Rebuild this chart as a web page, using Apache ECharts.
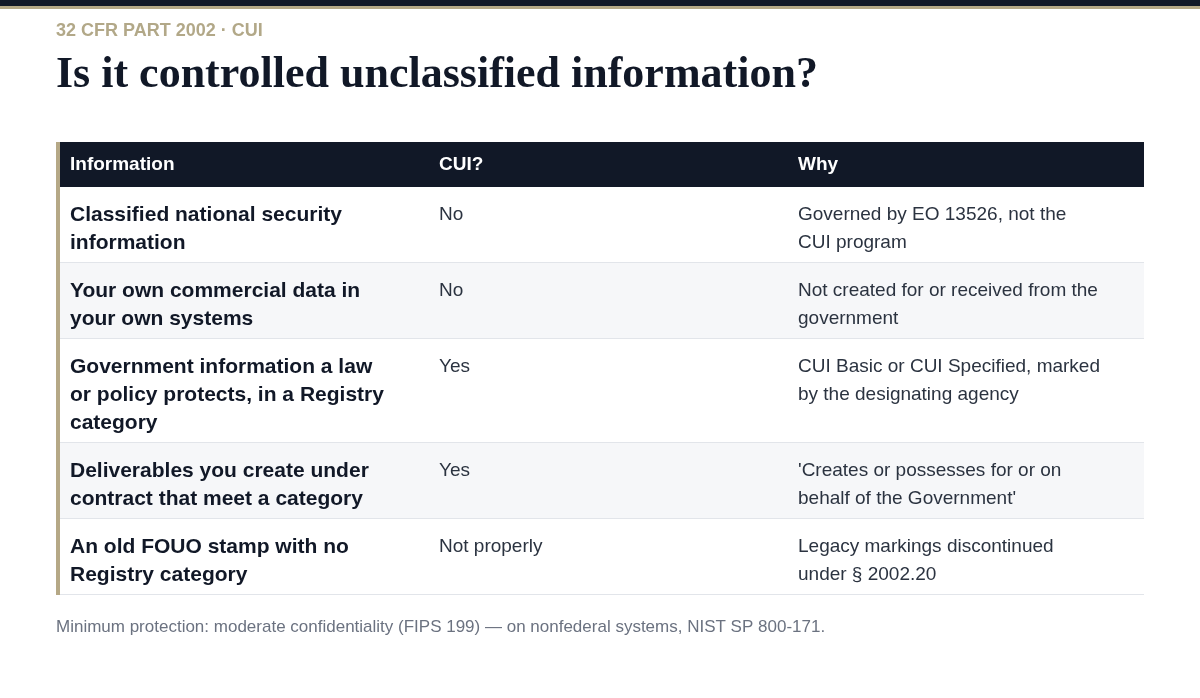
<!DOCTYPE html>
<html><head><meta charset="utf-8">
<script src="https://cdn.jsdelivr.net/npm/echarts@6/dist/echarts.min.js"></script>
<style>html,body{margin:0;padding:0;background:#fff}#c{width:1200px;height:698px}</style>
</head><body><div id="c"></div>
<script>
const kicker = "32 CFR PART 2002 · CUI";
const title = "Is it controlled unclassified information?";
const headers = ["Information", "CUI?", "Why"];
const information = [
  "Classified national security\ninformation",
  "Your own commercial data in\nyour own systems",
  "Government information a law\nor policy protects, in a Registry\ncategory",
  "Deliverables you create under\ncontract that meet a category",
  "An old FOUO stamp with no\nRegistry category"
];
const cui = ["No", "No", "Yes", "Yes", "Not properly"];
const why = [
  "Governed by EO 13526, not the\nCUI program",
  "Not created for or received from the\ngovernment",
  "CUI Basic or CUI Specified, marked\nby the designating agency",
  "'Creates or possesses for or on\nbehalf of the Government'",
  "Legacy markings discontinued\nunder § 2002.20"
];
const footnote = "Minimum protection: moderate confidentiality (FIPS 199) — on nonfederal systems, NIST SP 800-171.";

const FONT = "'Liberation Sans', Arial, sans-serif";
const colX = [70, 439, 798];
const left = 56, right = 1144, headTop = 142, headH = 45, lineH = 28, padV = 14;
const g = [];
g.push({type:'rect', shape:{x:0,y:0,width:1200,height:6}, style:{fill:'#111827'}});
g.push({type:'rect', shape:{x:0,y:6,width:1200,height:3}, style:{fill:'#b5a886'}});
g.push({type:'text', x:56, y:22, style:{text:kicker, font:"bold 18px "+FONT, fill:'#b2a888', letterSpacing:3}});
g.push({type:'text', x:56, y:54, style:{text:title, font:"bold 44px 'Liberation Serif', 'Times New Roman', serif", fill:'#111827'}});
g.push({type:'rect', shape:{x:left,y:headTop,width:right-left,height:headH}, style:{fill:'#111827'}});
headers.forEach((h,i)=>g.push({type:'text', x:colX[i], y:headTop+13, style:{text:h, font:"bold 19px "+FONT, fill:'#ffffff'}}));
let y = headTop+headH;
information.forEach((info,r)=>{
  const n = Math.max(info.split('\n').length, why[r].split('\n').length);
  const h = n*lineH + 20;
  g.push({type:'rect', shape:{x:left,y:y,width:right-left,height:h}, style:{fill: r%2 ? '#f6f7f9' : '#ffffff'}});
  g.push({type:'rect', shape:{x:left,y:y+h-1,width:right-left,height:1}, style:{fill:'#e2e5ea'}});
  g.push({type:'text', x:colX[0], y:y+14, style:{text:info, font:"bold 21px "+FONT, fill:'#111827', lineHeight:lineH}});
  g.push({type:'text', x:colX[1], y:y+14, style:{text:cui[r], font:"19px "+FONT, fill:'#2b3340', lineHeight:lineH}});
  g.push({type:'text', x:colX[2], y:y+14, style:{text:why[r], font:"19px "+FONT, fill:'#2b3340', lineHeight:lineH}});
  y += h;
});
g.push({type:'rect', shape:{x:left,y:headTop,width:4,height:y-headTop}, style:{fill:'#b5a886'}});
g.push({type:'text', x:56, y:619, style:{text:footnote, font:"17px "+FONT, fill:'#6b7280'}});
const chart = echarts.init(document.getElementById('c'));
chart.setOption({animation:false, graphic:g});
</script></body></html>
